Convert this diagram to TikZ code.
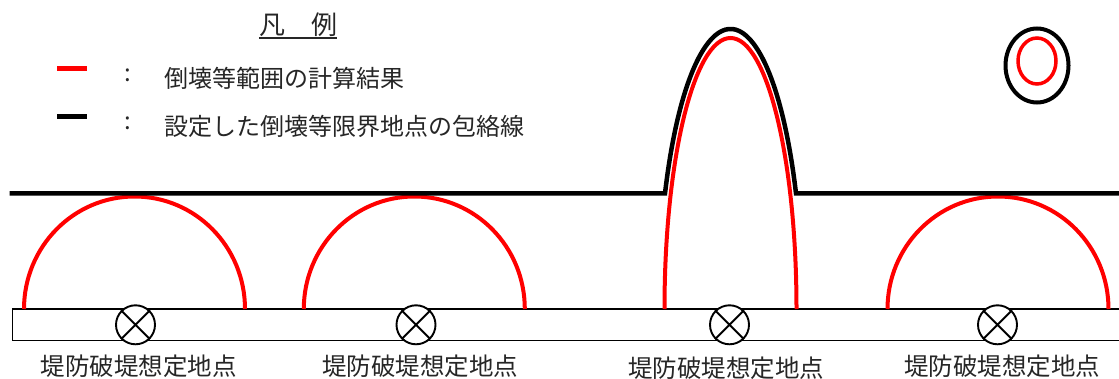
\documentclass[tikz,border=0pt]{standalone}
\usepackage{fontspec}
\setmainfont{Noto Sans CJK JP}
\newfontfamily\jp{Noto Sans CJK JP}
\definecolor{pured}{RGB}{255,0,0}
\tikzset{
  envelope/.style={line width=4.5pt, black},
  calc/.style={line width=4pt, pured},
  strip/.style={line width=1.5pt, black},
  breach/.style={circle, draw, line width=1.9pt, fill=white, minimum size=39pt, inner sep=0pt},
  lbl/.style={font=\jp\fontsize{24.5}{26}\selectfont, inner sep=0pt, text=black!85},
  legtxt/.style={font=\jp\fontsize{24}{26}\selectfont, inner sep=0pt, anchor=west, text=black!85},
}
\begin{document}
\begin{tikzpicture}[x=1pt,y=1pt]
\useasboundingbox (0,0) rectangle (1119,378);
% legend title
\node[lbl, font=\jp\fontsize{26}{28}\selectfont] (title) at (298,353) {凡　例};
\draw[line width=1.6pt, black!85] ([yshift=-1pt]title.south west) -- ([yshift=-1pt]title.south east);
% legend rows
\coordinate (r1a) at (57,309.5); \coordinate (r1b) at (87,309.5);
\coordinate (r2a) at (57,261);   \coordinate (r2b) at (87,261);
\draw[line width=5pt, pured] (r1a) -- (r1b);
\draw[line width=5pt, black] (r2a) -- (r2b);
\node[legtxt, anchor=center] (c1) at (128,303) {:};
\node[legtxt, anchor=center] (c2) at (128,255) {:};
\node[legtxt] (t1) at (164,299.5) {倒壊等範囲の計算結果};
\node[legtxt] (t2) at (164,252) {設定した倒壊等限界地点の包絡線};
% strip
\draw[strip] (12.5,37.3) rectangle (1125,69);
% red calculation results
\draw[calc] (24,69) arc[start angle=180, end angle=0, x radius=110.5, y radius=112.5];
\draw[calc] (303.8,69) arc[start angle=180, end angle=0, x radius=110.5, y radius=112.5];
\draw[calc] (887.5,69) arc[start angle=180, end angle=0, x radius=110.5, y radius=112.5];
\draw[calc] (664.5,69) arc[start angle=180, end angle=0, x radius=66, y radius=271];
% envelope
\draw[envelope] (9.5,184.5) -- (665,184.5)
  arc[start angle=155.64, end angle=24.36, x radius=71.9, y radius=280] -- (1125,184.5);
% legend ovals
\draw[line width=4pt, black] (1037,312.5) ellipse[x radius=31.5, y radius=37];
\draw[line width=3.5pt, pured] (1037,317) ellipse[x radius=19, y radius=23];
% breach points
\foreach \n/\x in {p1/135.5, p2/416, p3/729.5, p4/997.5}{
  \node[breach] (\n) at (\x,53.2) {};
  \draw[line width=1.9pt] (\n.45) -- (\n.225) (\n.135) -- (\n.315);
}
% labels
\node[lbl] (l1) at (138.6,12) {堤防破堤想定地点};
\node[lbl] (l2) at (420,12) {堤防破堤想定地点};
\node[lbl] (l3) at (726,10) {堤防破堤想定地点};
\node[lbl] (l4) at (1002,12) {堤防破堤想定地点};
\end{tikzpicture}
\end{document}
